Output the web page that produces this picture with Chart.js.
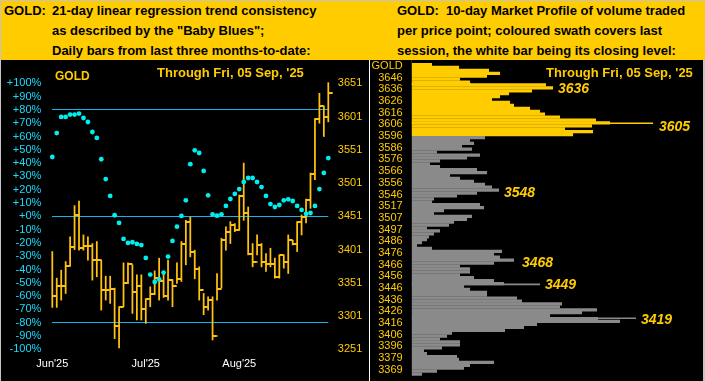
<!DOCTYPE html>
<html><head><meta charset="utf-8">
<script src="https://cdn.jsdelivr.net/npm/chart.js"></script>
<style>
body{margin:0;width:705px;height:381px;background:#c4c4c4;position:relative;overflow:hidden;font-family:"Liberation Sans",Arial,sans-serif}
.abs{position:absolute;white-space:pre}
#hdr{left:1px;top:1px;width:704px;height:59px;background:#ffcc00}
.h{font-weight:bold;font-size:13px;line-height:20px;color:#000}
#lp{left:1px;top:60px;width:368px;height:321px;background:#000}
#rp{left:370px;top:60px;width:333px;height:321px;background:#000}
#vl{left:369px;top:60px;width:1px;height:321px;background:#fff}
.g{color:#ffcc00;font-weight:bold;line-height:16px}
.gi{color:#ffcc00;font-weight:bold;font-style:italic;font-size:14px;line-height:16px}
</style></head><body>
<div class="abs" id="hdr"></div>
<div class="abs h" style="left:4px;top:1px">GOLD:</div>
<div class="abs h" style="left:52px;top:1px">21-day linear regression trend consistency
as described by the "Baby Blues";
Daily bars from last three months-to-date:</div>
<div class="abs h" style="left:397px;top:1px">GOLD:  10-day Market Profile of volume traded
per price point; coloured swath covers last
session, the white bar being its closing level:</div>
<div class="abs" id="lp"></div><div class="abs" id="vl"></div><div class="abs" id="rp"></div>
<canvas id="c1" class="abs" style="left:0;top:60px" width="369" height="321"></canvas>
<canvas id="c2" class="abs" style="left:371px;top:60px" width="332" height="321"></canvas>
<div class="abs g" style="left:55px;top:68px;font-size:12px">GOLD</div>
<div class="abs g" style="left:157px;top:65px;font-size:13px">Through Fri, 05 Sep, '25</div>
<div class="abs g" style="left:546px;top:65px;font-size:13px">Through Fri, 05 Sep, '25</div>
<div class="abs gi" style="left:558px;top:80px">3636</div>
<div class="abs gi" style="left:659px;top:118px">3605</div>
<div class="abs gi" style="left:504px;top:184px">3548</div>
<div class="abs gi" style="left:522px;top:254px">3468</div>
<div class="abs gi" style="left:545px;top:276px">3449</div>
<div class="abs gi" style="left:641px;top:311px">3419</div>
<script>
// ---------- left panel data ----------
const pctTicks = [100,90,80,70,60,50,40,30,20,10,0,-10,-20,-30,-40,-50,-60,-70,-80,-90,-100];
const priceTicks = [3651,3601,3551,3501,3451,3401,3351,3301,3251];
const refLines = [80,0,-80];
const monthTicks = [0,21,42];
const monthLabels = ["Jun'25","Jul'25","Aug'25"];
const blues = [44.6,62.6,74.7,74.7,76.5,76.5,77.2,73.9,70.9,63.4,58.9,42.9,28.0,15.3,0.8,-5,-17,-20,-19.5,-20.8,-21.6,
  -31.3,-43.8,-49.4,-47.4,-42.3,-30.3,-18.5,-7.8,0.3,12,39.2,49.6,47.6,34.1,15.8,1.5,0.5,1.5,7.8,13,16.8,
  20.5,25.8,28.8,28.8,25.8,22,15.3,9.2,7,8.5,12,12.8,11.5,7.8,4.8,1.8,2.5,7.8,20.5,32.6,43.8];
const highs = [3398,3358,3370,3383,3420,3467,3474,3423,3420,3410,3413,3385,3361,3361,3343,3315,3381,3381,3378,3363,3363,
  3327,3345,3369,3388,3368,3385,3356,3381,3413,3445,3450,3400,3375,3335,3330,3330,3365,3418,3435,3443,3440,
  3483,3531,3465,3410,3423,3410,3395,3403,3388,3393,3393,3423,3415,3443,3453,3477,3516,3598,3636,3617,3652];
const lows = [3314,3314,3325,3335,3376,3401,3400,3400,3385,3355,3360,3310,3325,3320,3267,3253,3315,3350,3305,3295,3295,
  3290,3315,3333,3325,3329,3325,3315,3350,3353,3378,3390,3357,3325,3303,3310,3265,3325,3343,3400,3410,3428,
  3430,3445,3393,3375,3393,3375,3368,3375,3358,3358,3373,3365,3408,3398,3423,3441,3463,3506,3591,3571,3593];
const closes = [3331,3346,3346,3376,3405,3453,3404,3406,3406,3386,3385,3340,3340,3341,3286,3315,3350,3380,3337,3346,3312,
  3327,3334,3358,3353,3331,3355,3346,3356,3410,3443,3398,3372,3340,3315,3325,3271,3342,3416,3428,3438,3430,
  3482,3456,3395,3383,3408,3383,3380,3380,3359,3393,3383,3416,3410,3443,3450,3476,3514,3597,3617,3600,3637];

// ---------- right panel data ----------
const profileLabels = ['GOLD','3646','3636','3626','3616','3606','3596','3586','3576','3566','3556','3546','3517',
  '3507','3497','3486','3476','3466','3456','3446','3436','3426','3416','3406','3396','3379','3369'];
const profileVolume = [
  0,20,47,77,  88,75,48,58,  134,141,120,97,  88,80,98,102,  118,128,133,148,  184,198,180,153,
  181,161,73,58,  62,50,60,25,  68,55,28,18,  28,65,75,38,  48,62,73,80,  87,65,45,22,
  20,68,72,32,  22,60,55,42,  37,15,28,22,  17,15,10,5,  20,90,82,88,  102,82,48,58,
  58,48,62,82,  92,52,58,75,  75,105,110,150,  148,185,170,138,  186,208,125,112,  93,40,35,28,
  48,48,30,12,  15,45,47,82,  58,52,25,10];
const swathRows = 26;
const thinRows = [21.1,76.3,87.9];
const thinVolume = [241,128,224];
const closeRow = [7.77];
const closeVolume = [59];

const FONT = '"Liberation Sans", Arial, sans-serif';
Chart.defaults.font.family = FONT;
const GOLDC = '#ffc20e', CYAN = '#19dcff', LINEC = '#16b4ee', DOT = '#00eeee', GRAY = '#8a8a8a', YEL = '#ffcc00';

const noPadV = s => { s.paddingTop = 0; s.paddingBottom = 0; };
const noPadH = s => { s.paddingLeft = 0; s.paddingRight = 0; };

const tickImg = document.createElement('canvas');
tickImg.width = 10; tickImg.height = 2;
const tctx = tickImg.getContext('2d'); tctx.fillStyle = GOLDC; tctx.fillRect(5,0,4.5,2);

new Chart(document.getElementById('c1'), {
  type: 'bar',
  data: { datasets: [
    { type:'line', data: blues.map((v,i)=>({x:i,y:v})), yAxisID:'y', showLine:false, pointStyle:'circle',
      pointRadius:2.4, pointBackgroundColor:DOT, pointBorderWidth:0, clip:false, order:1 },
    { type:'line', data: closes.map((c,i)=>({x:i,y:c})), yAxisID:'y1', showLine:false, pointStyle:tickImg,
      pointRadius:5, clip:false, order:2 },
    { type:'bar', data: highs.map((h,i)=>({x:i,y:[lows[i],h]})), yAxisID:'y1', backgroundColor:GOLDC,
      barThickness:1.1, grouped:false, clip:false, order:3 }
  ]},
  options: {
    responsive:false, animation:false, devicePixelRatio:1,
    layout:{ padding:{ top:23.3, bottom:0, left:0, right:0 } },
    plugins:{ legend:{display:false}, tooltip:{enabled:false} },
    scales:{
      x:{ type:'linear', min:0, max:62, offset:false, grid:{display:false, drawTicks:false, offset:false}, border:{display:false},
        afterBuildTicks: s => { s.ticks = monthTicks.map(v=>({value:v})); },
        afterFit: s => { s.height = 31.7; noPadH(s); },
        ticks:{ autoSkip:false, maxRotation:0, color:'#ffffff', font:{size:11}, padding:8, callback:(v,i)=>monthLabels[i] } },
      y:{ type:'linear', position:'left', min:-100, max:100,
        afterBuildTicks: s => { s.ticks = pctTicks.map(v=>({value:v})); },
        afterFit: s => { s.width = 52.3; noPadV(s); },
        grid:{ drawTicks:false, lineWidth:1, color: c => (c.tick && refLines.includes(c.tick.value)) ? LINEC : 'rgba(0,0,0,0)' },
        border:{display:false},
        ticks:{ autoSkip:false, color:CYAN, font:{size:11}, padding:11, callback: v => (v>=0?'+':'')+v+'%' } },
      y1:{ type:'linear', position:'right', min:3251, max:3651,
        afterBuildTicks: s => { s.ticks = priceTicks.map(v=>({value:v})); },
        afterFit: s => { s.width = 40.7; noPadV(s); },
        grid:{display:false, drawTicks:false}, border:{display:false},
        ticks:{ autoSkip:false, color:YEL, font:{size:11}, padding:9.5, callback: v => String(v) } }
    }
  }
});

new Chart(document.getElementById('c2'), {
  type:'bar',
  data:{ datasets:[
    { data: profileVolume.map((v,r)=>({x:v,y:r})), backgroundColor: profileVolume.map((v,r)=> r < swathRows ? YEL : GRAY),
      barThickness:2.6, grouped:false, borderWidth:0 },
    { data: thinVolume.map((v,k)=>({x:v,y:thinRows[k]})), backgroundColor: thinRows.map(r => r < swathRows ? YEL : GRAY),
      barThickness:1, grouped:false, borderWidth:0 },
    { data: closeVolume.map((v,k)=>({x:v,y:closeRow[k]})), backgroundColor:'#ffffff', barThickness:1.3, grouped:false, borderWidth:0 }
  ]},
  options:{
    indexAxis:'y', responsive:false, animation:false, devicePixelRatio:1,
    layout:{ padding:0 },
    plugins:{ legend:{display:false}, tooltip:{enabled:false} },
    scales:{
      x:{ type:'linear', display:false, min:0, max:291.3 },
      y:{ type:'linear', reverse:true, min:-0.555, max:109.38, offset:false,
        grid:{display:false, drawTicks:false, offset:false}, border:{display:false},
        afterBuildTicks: s => { s.ticks = profileLabels.map((l,b)=>({value:4*b+1.5})); },
        afterFit: s => { s.width = 40.7; noPadV(s); },
        ticks:{ autoSkip:false, color:YEL, font:{size:11}, padding:9, callback:(v,i)=>profileLabels[i] } }
    }
  }
});
</script>
</body></html>
